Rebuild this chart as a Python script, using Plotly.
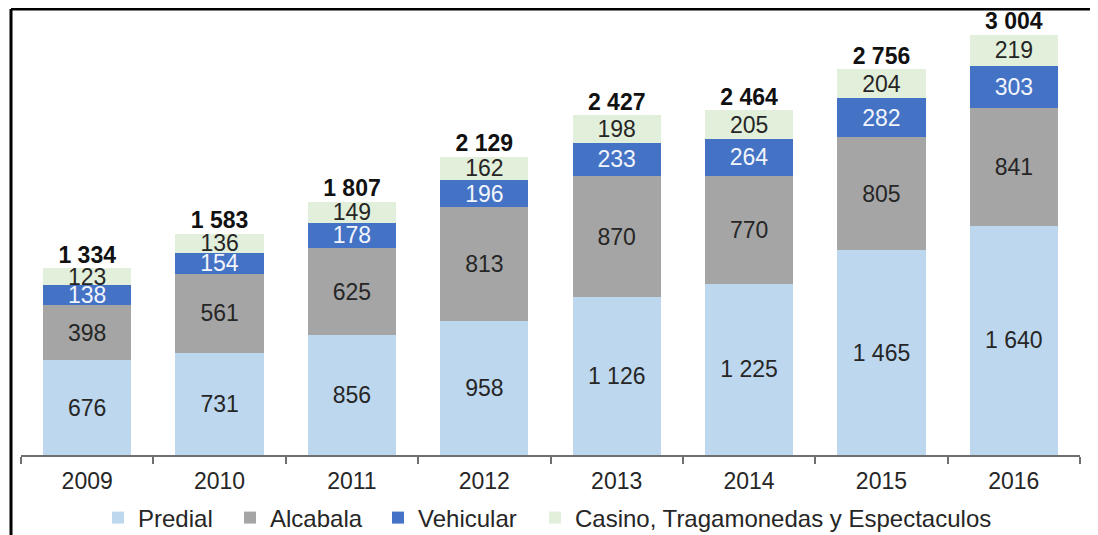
import plotly.graph_objects as go

years = ["2009", "2010", "2011", "2012", "2013", "2014", "2015", "2016"]
predial = [676, 731, 856, 958, 1126, 1225, 1465, 1640]
alcabala = [398, 561, 625, 813, 870, 770, 805, 841]
vehicular = [138, 154, 178, 196, 233, 264, 282, 303]
casino = [123, 136, 149, 162, 198, 205, 204, 219]
totals = [1334, 1583, 1807, 2129, 2427, 2464, 2756, 3004]

series_names = ["Predial", "Alcabala", "Vehicular", "Casino, Tragamonedas y Espectaculos"]
series_values = [predial, alcabala, vehicular, casino]
series_colors = ["#BDD7EE", "#A5A5A5", "#4472C4", "#E2EFDA"]
label_colors = ["#262626", "#262626", "#F2F5FC", "#262626"]


def fmt(v):
    return f"{v:,}".replace(",", " ")


# The page body adds an 8px margin, so figure coords = page coords - 8.
OFF = 8
W, H = 1098 - OFF, 535 - OFF
L, R, T, B = 21 - OFF, 1080 - OFF, 20 - OFF, 455 - OFF
pw, ph = R - L, B - T


def px_x(page_x):
    return (page_x - OFF - L) / pw


def px_y(page_y):
    return (B - (page_y - OFF)) / ph


FONT = "Liberation Sans, Arial, sans-serif"

fig = go.Figure()
legend_text_x = [135, 267, 415, 572]
legend_ids = ["legend", "legend2", "legend3", "legend4"]
for name, vals, col, lc, lid in zip(series_names, series_values, series_colors, label_colors, legend_ids):
    fig.add_trace(go.Bar(
        x=years, y=vals, name=name,
        marker=dict(color=col, line=dict(width=0)),
        text=[fmt(v) for v in vals],
        textposition="inside", insidetextanchor="middle",
        textangle=0, constraintext="none",
        textfont=dict(family=FONT, size=23, color=lc),
        legend=lid,
    ))

fig.add_trace(go.Scatter(
    x=years, y=totals, mode="text", showlegend=False,
    text=[f"<b>{fmt(t)}</b>" for t in totals],
    textposition="top center",
    textfont=dict(family=FONT, size=23, color="#111111"),
    cliponaxis=False,
))

layout_legends = {}
for lid, tx in zip(legend_ids, legend_text_x):
    layout_legends[lid] = dict(
        x=px_x(tx - 37), xanchor="left", y=px_y(518), yanchor="middle",
        orientation="h", font=dict(family=FONT, size=24, color="#262626"),
        bgcolor="rgba(0,0,0,0)", borderwidth=0,
    )

fig.update_layout(
    width=W, height=H, barmode="stack", bargap=0.333,
    plot_bgcolor="white", paper_bgcolor="white",
    margin=dict(l=L, r=W - R, t=T, b=H - B, pad=0, autoexpand=False),
    showlegend=True,
    xaxis=dict(type="category", categoryorder="array", categoryarray=years,
               range=[-0.5, len(years) - 0.5], autorange=False, automargin=False,
               showline=True, linecolor="#6f6f6f", linewidth=1.5,
               ticks="outside", tickson="boundaries", ticklen=7, tickcolor="#6f6f6f",
               tickwidth=1.5, showgrid=False, tickangle=0, ticklabelstandoff=5,
               tickfont=dict(family=FONT, size=23, color="#262626")),
    yaxis=dict(visible=False, range=[0, ph / 0.1399], autorange=False),
    **layout_legends,
)

border = dict(color="black", width=3)
top_y = (B - 1) / ph
left_x = px_x(11)
fig.add_shape(type="line", xref="paper", yref="paper",
              x0=left_x, x1=px_x(1110), y0=top_y, y1=top_y, line=border)
fig.add_shape(type="line", xref="paper", yref="paper",
              x0=left_x, x1=left_x, y0=top_y, y1=px_y(545), line=border)

fig.write_html("out.html")
